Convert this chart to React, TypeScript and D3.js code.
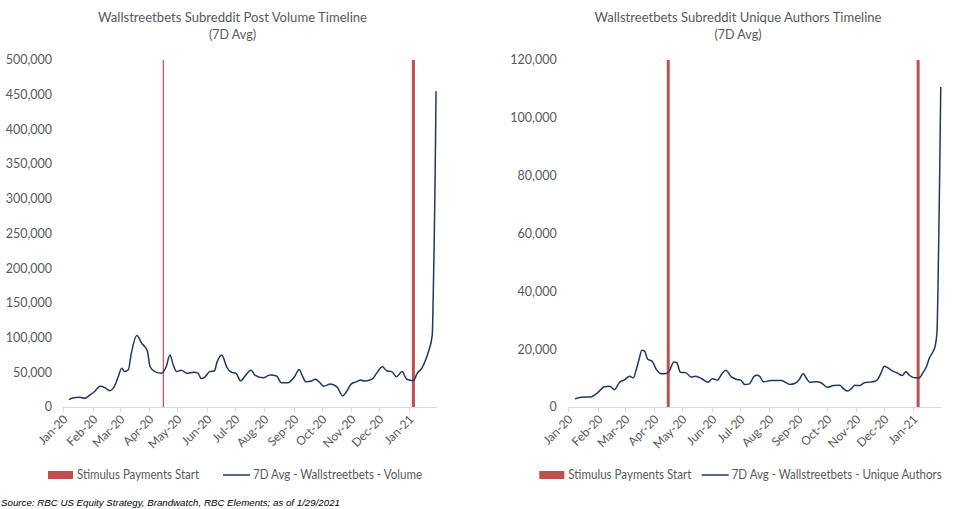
import React from 'react';
import * as d3 from 'd3';

// 7D avg post volume
const volumeDates = [
  '2020-01-07', '2020-01-11', '2020-01-18', '2020-01-24', '2020-01-29', '2020-02-03', '2020-02-09', '2020-02-14',
  '2020-02-19', '2020-02-25', '2020-02-28', '2020-03-03', '2020-03-06', '2020-03-10', '2020-03-13', '2020-03-19',
  '2020-03-24', '2020-03-30', '2020-04-02', '2020-04-07', '2020-04-14', '2020-04-19', '2020-04-23', '2020-04-26',
  '2020-04-30', '2020-05-05', '2020-05-11', '2020-05-18', '2020-05-23', '2020-05-26', '2020-05-30', '2020-06-04',
  '2020-06-09', '2020-06-12', '2020-06-17', '2020-06-22', '2020-06-27', '2020-07-02', '2020-07-07', '2020-07-11',
  '2020-07-18', '2020-07-22', '2020-07-31', '2020-08-07', '2020-08-14', '2020-08-19', '2020-08-26', '2020-09-02',
  '2020-09-07', '2020-09-10', '2020-09-14', '2020-09-20', '2020-09-24', '2020-09-29', '2020-10-03', '2020-10-10',
  '2020-10-17', '2020-10-23', '2020-10-27', '2020-11-01', '2020-11-07', '2020-11-11', '2020-11-15', '2020-11-21',
  '2020-11-24', '2020-11-28', '2020-12-04', '2020-12-09', '2020-12-14', '2020-12-19', '2020-12-25', '2020-12-30',
  '2021-01-06', '2021-01-10', '2021-01-15', '2021-01-19', '2021-01-22', '2021-01-26', '2021-01-27', '2021-01-28',
  '2021-01-29', '2021-01-30'
];
const volumeValues = [
  10500, 13000, 14000, 12500, 17000, 22000, 30000, 28000,
  23500, 32000, 43000, 56000, 51000, 54000, 77000, 103000,
  92000, 81000, 58000, 51000, 48500, 58000, 75000, 63000,
  51000, 53000, 48500, 50000, 48500, 41000, 43000, 51000,
  52000, 65000, 75000, 58000, 50000, 48500, 37500, 43700,
  53000, 46000, 42000, 46000, 44700, 35000, 35000, 43700,
  54000, 46000, 36500, 37500, 40000, 35000, 30000, 33000,
  29000, 16000, 22000, 33000, 36500, 39000, 37500, 39000,
  41000, 48500, 58000, 52000, 51000, 43700, 51000, 40000,
  38000, 48500, 56000, 68000, 80000, 104000, 160000, 235000,
  330000, 455000
];

// 7D avg unique authors
const authorDates = [
  '2020-01-08', '2020-01-15', '2020-01-25', '2020-02-01', '2020-02-08', '2020-02-14', '2020-02-19', '2020-02-24',
  '2020-03-01', '2020-03-06', '2020-03-10', '2020-03-13', '2020-03-16', '2020-03-19', '2020-03-22', '2020-03-25',
  '2020-03-30', '2020-04-03', '2020-04-09', '2020-04-14', '2020-04-17', '2020-04-22', '2020-04-25', '2020-04-29',
  '2020-05-05', '2020-05-10', '2020-05-15', '2020-05-22', '2020-05-28', '2020-06-02', '2020-06-07', '2020-06-12',
  '2020-06-16', '2020-06-22', '2020-06-28', '2020-07-02', '2020-07-06', '2020-07-11', '2020-07-16', '2020-07-19',
  '2020-07-22', '2020-07-26', '2020-08-03', '2020-08-14', '2020-08-23', '2020-08-28', '2020-09-02', '2020-09-06',
  '2020-09-10', '2020-09-13', '2020-09-20', '2020-09-25', '2020-10-02', '2020-10-08', '2020-10-15', '2020-10-18',
  '2020-10-23', '2020-10-27', '2020-10-31', '2020-11-05', '2020-11-10', '2020-11-16', '2020-11-21', '2020-11-24',
  '2020-11-28', '2020-12-01', '2020-12-05', '2020-12-10', '2020-12-15', '2020-12-20', '2020-12-24', '2020-12-28',
  '2021-01-02', '2021-01-07', '2021-01-11', '2021-01-15', '2021-01-18', '2021-01-22', '2021-01-24', '2021-01-26',
  '2021-01-27', '2021-01-28', '2021-01-29', '2021-01-30'
];
const authorValues = [
  2800, 3400, 3500, 4900, 7000, 7200, 6000, 8400,
  9500, 10600, 10100, 12900, 16400, 19600, 19300, 16600,
  15800, 13200, 11500, 11600, 12400, 15600, 15300, 12000,
  11800, 10400, 10600, 9700, 8600, 9800, 9300, 11500,
  12700, 10400, 9500, 9300, 7800, 8000, 10600, 11000,
  10600, 8700, 9200, 9200, 7800, 8100, 9500, 11500,
  9700, 8600, 8700, 8400, 6800, 7400, 7500, 6600,
  5500, 6300, 7500, 7400, 8400, 8600, 8900, 9500,
  12000, 14100, 13500, 12400, 11800, 10900, 12200, 10900,
  10100, 10100, 11800, 14100, 17000, 19300, 21000, 26000,
  40000, 61000, 84000, 110700
];

const stimulusDates = ['2020-04-16', '2021-01-06'];
const axisStart = '2020-01-01';
const axisEnd = '2021-01-31';

const volumeTicks = d3.range(0, 500001, 50000);
const authorTicks = d3.range(0, 120001, 20000);

const parse = d3.timeParse('%Y-%m-%d');
const fmtMonth = d3.timeFormat('%b-%y');
const fmtNum = d3.format(',');

const RED = '#c0504d';
const NAVY = '#1f3864';
const GRAY = '#595959';
const FONT = 'Lato, "Open Sans", sans-serif';

type PanelProps = {
  title: string;
  titleWidth: number;
  dates: string[];
  values: number[];
  ticks: number[];
  seriesName: string;
  left: number;
  right: number;
  labelX: number;
  titleX: number;
  firstLineWidth: number;
  legendX: number[];
  legendWidths: number[];
};

function Panel(props: PanelProps) {
  const { title, titleWidth, dates, values, ticks, seriesName, left, right, labelX, titleX, firstLineWidth, legendX, legendWidths } = props;
  const top = 60, bottom = 407;

  const x = d3.scaleTime()
    .domain([parse(axisStart) as Date, parse(axisEnd) as Date])
    .range([left, right]);
  const y = d3.scaleLinear()
    .domain([0, ticks[ticks.length - 1]])
    .range([bottom, top]);

  const points = dates.map((d, i) => [parse(d) as Date, values[i]] as [Date, number]);
  const line = d3.line<[Date, number]>()
    .x((d) => x(d[0]))
    .y((d) => y(d[1]))
    .curve(d3.curveMonotoneX);

  const months = d3.timeMonth.range(parse(axisStart) as Date, parse(axisEnd) as Date);

  return (
    <g fontFamily={FONT}>
      <text x={titleX} y={22} textAnchor="middle" fontSize={12.5} fill={GRAY}
        textLength={titleWidth} lengthAdjust="spacingAndGlyphs">{title}</text>
      <text x={titleX} y={39} textAnchor="middle" fontSize={12.5} fill={GRAY}>(7D Avg)</text>

      {ticks.map((t) => (
        <text key={t} x={labelX} y={y(t)} dy="0.35em" textAnchor="end" fontSize={12.5} fill={GRAY}>{fmtNum(t)}</text>
      ))}

      <line x1={left} x2={right} y1={bottom + 0.5} y2={bottom + 0.5} stroke="#d9d9d9" strokeWidth={1} />
      {months.map((m) => {
        const mx = Math.round(x(m)) + 0.5;
        return (
          <g key={m.getTime()}>
            <line x1={mx} x2={mx} y1={bottom} y2={bottom + 5} stroke="#d9d9d9" />
            <text transform={`translate(${mx + 5},${bottom + 13}) rotate(-45)`} textAnchor="end" fontSize={12} fill={GRAY}>{fmtMonth(m)}</text>
          </g>
        );
      })}

      {stimulusDates.map((s, i) => (
        <line key={s} x1={x(parse(s) as Date)} x2={x(parse(s) as Date)} y1={top} y2={bottom}
          stroke={RED} strokeWidth={i === 0 ? firstLineWidth : 3} />
      ))}

      <path d={line(points) || ''} fill="none" stroke={NAVY} strokeWidth={1.5} />

      <rect x={legendX[0]} y={471} width={25} height={8} fill={RED} />
      <text x={legendX[0] + 29} y={479} fontSize={12.5} fill={GRAY}
        textLength={legendWidths[0]} lengthAdjust="spacingAndGlyphs">Stimulus Payments Start</text>
      <line x1={legendX[1]} x2={legendX[1] + 27} y1={475} y2={475} stroke={NAVY} strokeWidth={1.5} />
      <text x={legendX[1] + 30} y={479} fontSize={12.5} fill={GRAY}
        textLength={legendWidths[1]} lengthAdjust="spacingAndGlyphs">{seriesName}</text>
    </g>
  );
}

export default function App() {
  return (
    <svg width={959} height={509} style={{ position: 'absolute', left: 0, top: 0, background: '#fff' }}>
      <Panel
        title="Wallstreetbets Subreddit Post Volume Timeline"
        titleWidth={269}
        dates={volumeDates}
        values={volumeValues}
        ticks={volumeTicks}
        seriesName="7D Avg - Wallstreetbets - Volume"
        left={63.3}
        right={437}
        labelX={52}
        titleX={232.5}
        firstLineWidth={1.2}
        legendX={[48, 223]}
        legendWidths={[122, 169]}
      />
      <Panel
        title="Wallstreetbets Subreddit Unique Authors Timeline"
        titleWidth={287}
        dates={authorDates}
        values={authorValues}
        ticks={authorTicks}
        seriesName="7D Avg - Wallstreetbets - Unique Authors"
        left={568.3}
        right={941.7}
        labelX={556.7}
        titleX={738}
        firstLineWidth={3}
        legendX={[539.3, 701.7]}
        legendWidths={[123, 210]}
      />
      <text x={1} y={506} fontFamily='"Liberation Sans", Arial, sans-serif' fontStyle="italic" fontSize={9.5} fill="#000"
        textLength={339} lengthAdjust="spacingAndGlyphs">
        Source: RBC US Equity Strategy, Brandwatch, RBC Elements; as of 1/29/2021
      </text>
    </svg>
  );
}
